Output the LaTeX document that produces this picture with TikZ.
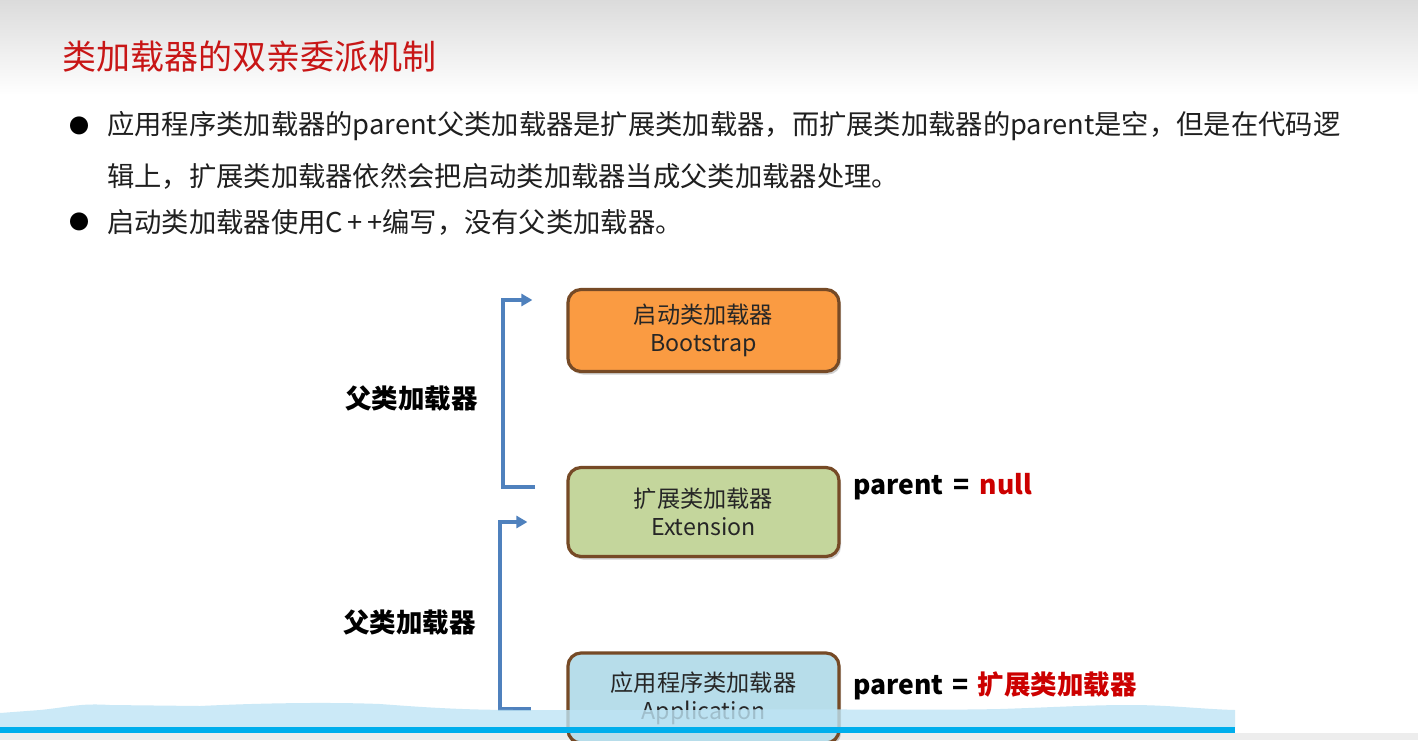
\documentclass[tikz,border=0pt]{standalone}
\usepackage{fontspec}
\setmainfont{Noto Sans CJK SC}
\usetikzlibrary{arrows.meta,shadows,calc}
\definecolor{titlered}{RGB}{200,22,22}
\definecolor{labred}{RGB}{204,0,0}
\definecolor{bootfill}{RGB}{250,155,66}
\definecolor{extfill}{RGB}{196,214,156}
\definecolor{appfill}{RGB}{183,221,234}
\definecolor{boxedge}{RGB}{118,74,38}
\definecolor{connblue}{RGB}{79,129,189}
\definecolor{wave}{RGB}{190,228,245}
\definecolor{lineblue}{RGB}{0,174,236}
\begin{document}
\begin{tikzpicture}[x=1pt,y=-1pt,
  loader/.style={draw=boxedge, line width=3.2pt, rounded corners=13pt,
    minimum width=271pt, minimum height=82pt, align=center, inner sep=0pt,
    font=\fontsize{23.2}{28}\selectfont, text=black!85,
    drop shadow={shadow xshift=2pt, shadow yshift=-3pt, opacity=0.3, fill=black!60}},
  conn/.style={draw=connblue, line width=3.6pt, -{Triangle[length=11pt,width=12pt]}},
  bodytext/.style={anchor=west, inner sep=0pt, font=\fontsize{27.3}{32}\selectfont, text=black!88},
  bullet/.style={inner sep=0pt, font=\fontsize{20}{24}\selectfont},
  sidelab/.style={anchor=west, inner sep=0pt, font=\fontsize{26.5}{30}\selectfont\bfseries},
  parlab/.style={anchor=west, inner sep=0pt, font=\fontsize{26.5}{30}\selectfont\bfseries}]
\useasboundingbox (0,0) rectangle (1418,740);
\begin{scope}
\clip (0,0) rectangle (1418,740);
% background
\fill[white] (0,0) rectangle (1418,740);
\shade[top color=black!14, bottom color=white] (0,0) rectangle (1418,95);
\fill[black!7] (0,733) rectangle (1418,740);

% title
\node[anchor=west, inner sep=0pt, text=titlered, font=\fontsize{34}{40}\selectfont] (title) at (62,57) {类加载器的双亲委派机制};

% bullets
\node[bullet] (b1) at (79,126) {●};
\node[bodytext] (l1) at (107,126) {应用程序类加载器的parent父类加载器是扩展类加载器，而扩展类加载器的parent是空，但是在代码逻};
\node[bodytext] (l2) at (107,176) {辑上，扩展类加载器依然会把启动类加载器当成父类加载器处理。};
\node[bullet] (b2) at (79,222) {●};
\node[bodytext] (l3) at (107,222) {启动类加载器使用C{\,}+{\,}+编写，没有父类加载器。};

% loader boxes
\node[loader, fill=bootfill] (boot) at (703.5,330.5) {启动类加载器\\Bootstrap};
\node[loader, fill=extfill, minimum height=89pt] (ext) at (703.5,512) {扩展类加载器\\Extension};
\node[loader, fill=appfill, minimum height=90pt] (app) at (703.5,698) {应用程序类加载器\\Application};

% brackets
\coordinate (c1s) at (535,487);
\coordinate (c1e) at ($(boot.west)+(-34,-30.5)$);
\draw[conn] (c1s) -- ++(-32,0) |- (c1e);
\coordinate (c2s) at (531,709);
\coordinate (c2e) at ($(ext.west)+(-39,10)$);
\draw[conn] (c2s) -- ++(-31,0) |- (c2e);

% side labels
\node[sidelab] (p1) at (345,399) {父类加载器};
\node[sidelab] (p2) at (343,623) {父类加载器};

% parent labels
\node[parlab] (n1) at (853,487) {parent\hspace{4pt} = \hspace{4pt}\textcolor{labred}{null}};
\node[parlab] (n2) at (853,686) {parent\hspace{3pt} = \hspace{3pt}\textcolor{labred}{扩展类加载器}};

% bottom wave overlay
\fill[wave, opacity=0.8] (0,713) -- (40,710) .. controls (70,707) and (80,703) .. (110,705)
  -- (200,706) .. controls (260,703) and (330,702) .. (380,704)
  .. controls (420,707) and (460,710) .. (520,710)
  -- (700,710) .. controls (800,708) and (900,711) .. (1000,709)
  .. controls (1060,707) and (1090,705) .. (1130,705)
  .. controls (1170,705) and (1200,709) .. (1235,710)
  -- (1235,728) -- (0,728) -- cycle;
\fill[lineblue] (0,727) rectangle (1235,733);
\end{scope}
\end{tikzpicture}
\end{document}
